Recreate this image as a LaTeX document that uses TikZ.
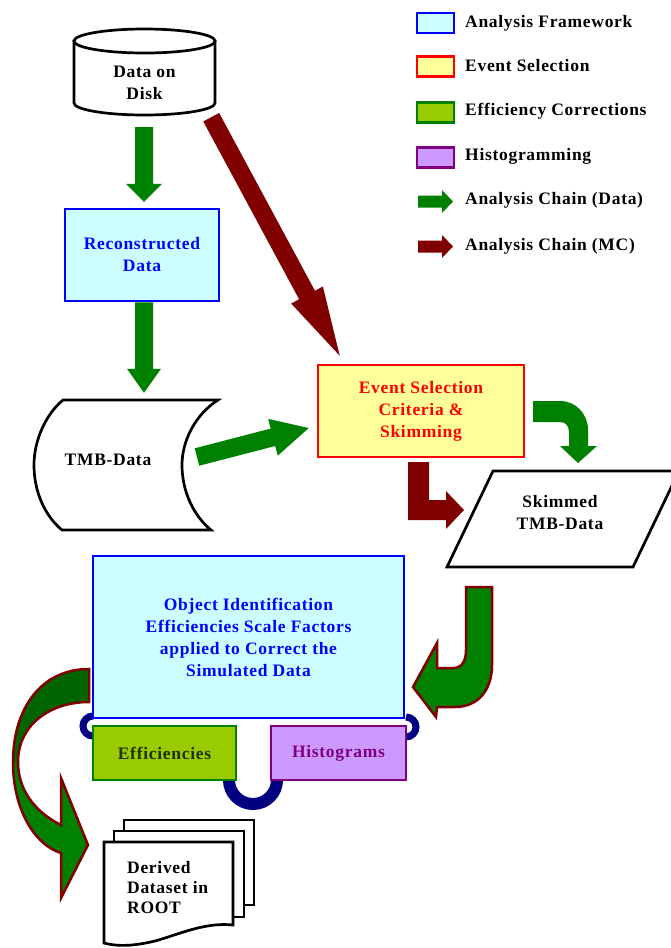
\documentclass[tikz,border=0pt]{standalone}
\usepackage{fontspec}
\setmainfont{Liberation Serif}[LetterSpace=4]
\usetikzlibrary{calc}
\definecolor{fwblue}{HTML}{0000FF}
\definecolor{fwfill}{HTML}{CCFFFF}
\definecolor{evred}{HTML}{FF0000}
\definecolor{evfill}{HTML}{FFFF99}
\definecolor{efborder}{HTML}{008000}
\definecolor{effill}{HTML}{99CC00}
\definecolor{eftext}{HTML}{1F3300}
\definecolor{hiborder}{HTML}{800080}
\definecolor{hifill}{HTML}{CC99FF}
\definecolor{agreen}{HTML}{008000}
\definecolor{adkgreen}{HTML}{006400}
\definecolor{amaroon}{HTML}{800000}
\definecolor{anavy}{HTML}{000080}
% #1 style, #2 tail, #3 tip, #4 shaft half width, #5 head half width, #6 head length
\newcommand\blockarrow[6]{%
  \coordinate (ba-a) at (#2);
  \coordinate (ba-b) at (#3);
  \coordinate (ba-h) at ($(ba-b)!#6!(ba-a)$);
  \path[#1] ($(ba-a)!#4!90:(ba-b)$) -- ($(ba-h)!#4!90:(ba-b)$) -- ($(ba-h)!#5!90:(ba-b)$)
    -- (ba-b) -- ($(ba-h)!#5!-90:(ba-b)$) -- ($(ba-h)!#4!-90:(ba-b)$) -- ($(ba-a)!#4!-90:(ba-b)$) -- cycle;
}
\begin{document}
\begin{tikzpicture}[x=1pt,y=-1pt,
  txt/.style={font=\fontsize{17.5}{22}\selectfont\bfseries, align=center, inner sep=0pt},
  box/.style={line width=2.5pt, inner sep=0pt},
  fw/.style={box, draw=fwblue, fill=fwfill, text=fwblue},
  ev/.style={box, draw=evred, fill=evfill, text=evred},
  ef/.style={box, draw=efborder, fill=effill, text=eftext},
  hi/.style={box, draw=hiborder, fill=hifill, text=hiborder},
  outline/.style={draw=black, fill=white, line width=2.7pt},
  plain/.style={inner sep=0pt},
  garrow/.style={fill=agreen},
  marrow/.style={fill=amaroon},
  curvyfill/.style={fill=agreen},
  curvyline/.style={draw=amaroon, line width=2.5pt, line join=miter},
  navyarc/.style={draw=anavy, line width=7pt},
  legtxt/.style={txt, anchor=west, text height=12pt, text depth=4pt}
]
\useasboundingbox (0,0) rectangle (671,948);
\clip (0,0) rectangle (671,948);

% ---------- legend ----------
\node[fw, minimum width=37pt, minimum height=20pt] (lg1) at (435.5,23) {};
\node[ev, minimum width=37pt, minimum height=20pt] (lg2) at (435.5,66.5) {};
\node[ef, minimum width=37pt, minimum height=20pt] (lg3) at (435.5,112.5) {};
\node[hi, minimum width=37pt, minimum height=20pt] (lg4) at (435.5,157.5) {};
\coordinate (lg5) at (435.5,201.5);
\coordinate (lg6) at (435.5,246.5);
\blockarrow{garrow}{[xshift=-17.5pt]lg5}{[xshift=17.5pt]lg5}{6pt}{11.5pt}{11pt}
\blockarrow{marrow}{[xshift=-17.5pt]lg6}{[xshift=17.5pt]lg6}{6pt}{11.5pt}{11pt}
\node[legtxt] (lt1) at (465,23) {Analysis Framework};
\node[legtxt] (lt2) at (465,67) {Event Selection};
\node[legtxt] (lt3) at (465,111) {Efficiency Corrections};
\node[legtxt] (lt4) at (465,156) {Histogramming};
\node[legtxt] (lt5) at (465,200) {Analysis Chain (Data)};
\node[legtxt] (lt6) at (465,246) {Analysis Chain (MC)};

% ---------- Data on Disk ----------
\node[plain, minimum width=141pt, minimum height=86pt] (disk) at (144.5,72) {};
\path[outline] (74,41) -- (74,103) arc[start angle=180, end angle=360, x radius=70.5pt, y radius=12pt] -- (215,41) -- cycle;
\path[outline] (144.5,41) ellipse[x radius=70.5pt, y radius=12pt];
\node[txt] (disktxt) at (144.5,83) {Data on\\Disk};

% ---------- Reconstructed Data ----------
\node[fw, txt, minimum width=154pt, minimum height=92pt] (recon) at (142,255) {Reconstructed\\Data};

% ---------- TMB-Data ----------
\node[plain, minimum width=184pt, minimum height=130pt] (tmb) at (126,465) {};
\path[outline] (63,400) -- (218,400) .. controls (196,414) and (182,440) .. (182,465)
  .. controls (182,492) and (194,516) .. (211,530) -- (62,530)
  .. controls (45,516) and (34,492) .. (34,465) .. controls (34,440) and (46,414) .. (63,400) -- cycle;
\node[txt] (tmbtxt) at (108,460) {TMB-Data};

% ---------- Event Selection ----------
\node[ev, txt, minimum width=206pt, minimum height=92pt] (event) at (421,411) {Event Selection\\Criteria \&\\Skimming};

% ---------- Skimmed TMB-Data ----------
\path[outline] (493,471) -- (679,471) -- (633,567) -- (447,567) -- cycle;
\node[txt] (skim) at (560,513) {Skimmed\\TMB-Data};

% ---------- connectors (navy) ----------
\path[navyarc] (93,716) arc[start angle=90, end angle=270, radius=10pt];
\path[navyarc] (406,717) arc[start angle=90, end angle=-90, radius=10pt];
\path[navyarc, line width=12pt] (229,780) arc[start angle=180, end angle=360, radius=24pt];

% ---------- curved arrows ----------
\path[curvyfill] (89,669) .. controls (40,669) and (13,710) .. (13,762)
  .. controls (13,810) and (35,845) .. (61,853) -- (61,898) -- (88,845) -- (61,778) -- (61,825)
  .. controls (35,812) and (18,790) .. (18,762) .. controls (18,725) and (50,702) .. (89,702) -- cycle;
\fill[adkgreen] (89,669) .. controls (40,669) and (13,710) .. (13,762) -- (18,762)
  .. controls (18,725) and (50,702) .. (89,702) -- cycle;
\path[curvyline] (89,669) .. controls (40,669) and (13,710) .. (13,762)
  .. controls (13,810) and (35,845) .. (61,853) -- (61,898) -- (88,845) -- (61,778) -- (61,825)
  .. controls (35,812) and (18,790) .. (18,762) .. controls (18,725) and (50,702) .. (89,702) -- cycle;
\path[curvyfill, curvyline] (466,587) -- (492,587) -- (492,665) .. controls (492,690) and (478,707) .. (455,707)
  -- (437,707) -- (436,717) -- (413,687) -- (437,643) -- (437,668) -- (453,668)
  .. controls (462,668) and (466,661) .. (466,650) -- cycle;

% ---------- Object identification and sub boxes ----------
\node[fw, txt, minimum width=311pt, minimum height=162pt] (obj) at (248.5,637) {Object Identification\\Efficiencies Scale Factors\\applied to Correct the\\Simulated Data};
\node[ef, txt, minimum width=143pt, minimum height=54pt] (eff) at (164.5,753) {Efficiencies};
\node[hi, txt, minimum width=135pt, minimum height=54pt] (hist) at (338.5,753) {Histograms};

% ---------- Derived dataset ----------
\path[outline] (124,820) rectangle (254,905);
\path[outline] (114,831) rectangle (244,917);
\path[outline] (104,842) -- (233,842) -- (233,925) .. controls (205,922) and (180,934) .. (155,941)
  .. controls (130,947) and (115,946) .. (104,943) -- cycle;
\node[plain] (derived) at (168.5,890) {};
\node[txt, align=left, anchor=west, font=\fontsize{17.5}{20}\selectfont\bfseries] (dertxt) at (127,888) {Derived\\Dataset in\\ROOT};

% ---------- straight block arrows ----------
\blockarrow{garrow}{[xshift=-0.5pt,yshift=-12pt]disk.south}{[xshift=2pt,yshift=6pt]recon.north}{9pt}{18pt}{18pt}
\blockarrow{garrow}{[xshift=2pt]recon.south}{[xshift=18pt,yshift=7pt]tmb.north}{9pt}{17pt}{24pt}
\blockarrow{garrow}{[xshift=71pt,yshift=8pt]tmb.center}{[xshift=-8pt,yshift=-17pt]event.west}{9pt}{19pt}{37pt}
\blockarrow{marrow}{[xshift=-4pt,yshift=-2pt]disk.south east}{[xshift=23pt,yshift=8pt]event.north west}{9pt}{18pt}{69pt}

% ---------- bent arrows from event selection ----------
\path[garrow] (533,401) -- (560,401) .. controls (576,401) and (588,414) .. (588,430) -- (588,446)
  -- (597,446) -- (578,463) -- (560,446) -- (569,446) -- (569,433)
  .. controls (569,426) and (566,422) .. (560,422) -- (533,422) -- cycle;
\path[marrow] (408,462) -- (429,462) -- (429,500) -- (446,500) -- (446,491) -- (464,510)
  -- (446,529) -- (446,520) -- (408,520) -- cycle;
\end{tikzpicture}
\end{document}
